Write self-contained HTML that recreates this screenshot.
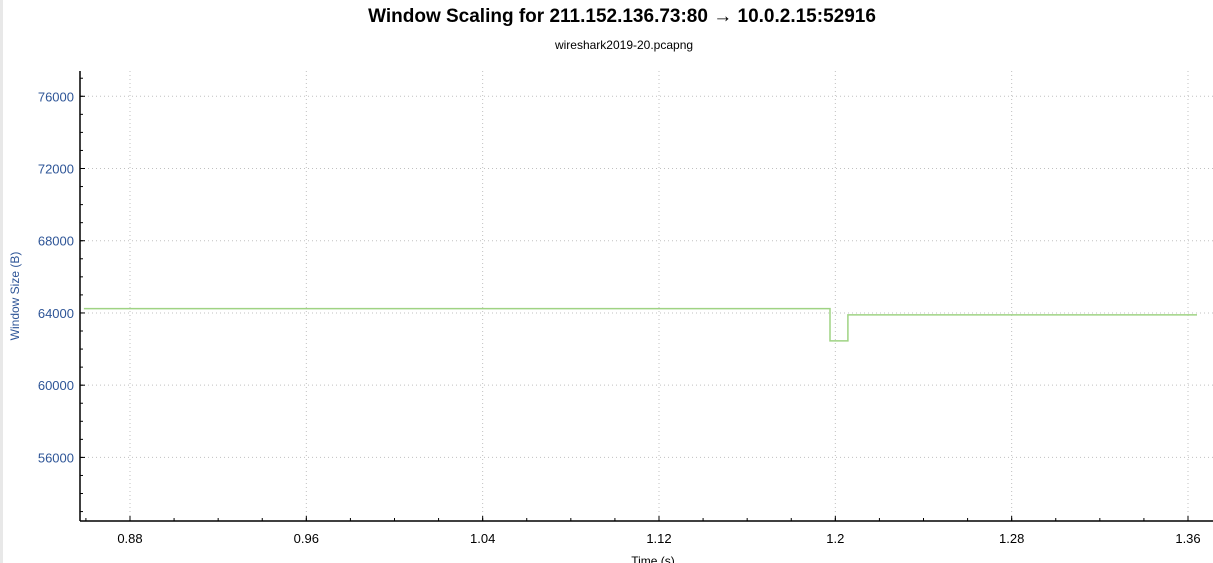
<!DOCTYPE html>
<html><head><meta charset="utf-8"><style>
body{margin:0;background:#fff;font-family:"Liberation Sans",Arial,sans-serif;}
svg{display:block}
</style></head><body>
<svg width="1213" height="563">
<rect x="0" y="0" width="3" height="563" fill="#e8e8e8"/>
<text x="622" y="22" text-anchor="middle" font-size="19" font-weight="bold" fill="#000">Window Scaling for 211.152.136.73:80 → 10.0.2.15:52916</text>
<text x="624" y="49" text-anchor="middle" font-size="12" fill="#000">wireshark2019-20.pcapng</text>
<g id="grid"></g><g id="axes"></g><g id="series"></g>
<text transform="translate(19,296) rotate(-90)" text-anchor="middle" font-size="12" fill="#2e5597">Window Size (B)</text>
<text x="653" y="565" text-anchor="middle" font-size="12" fill="#000">Time (s)</text>
</svg>
<script>
const xTicks=[0.88,0.96,1.04,1.12,1.2,1.28,1.36];
const xTickLabels=["0.88","0.96","1.04","1.12","1.2","1.28","1.36"];
const yTicks=[56000,60000,64000,68000,72000,76000];
const yTickLabels=["56000","60000","64000","68000","72000","76000"];
const seriesTimes=[0.8591,1.1976,1.1976,1.2057,1.2057,1.3641];
const seriesValues=[64240,64240,62450,62450,63890,63890];
const L=80,R=1213,T=71,B=521;
const X0=0.85732,X1=1.37134,Y0=52478,Y1=77400;
function xs(t){return L+(t-X0)/(X1-X0)*(R-L);}
function ys(v){return B-(v-Y0)/(Y1-Y0)*(B-T);}
const NS="http://www.w3.org/2000/svg";
function mk(tag,attrs,parent){const e=document.createElementNS(NS,tag);for(const k in attrs)e.setAttribute(k,attrs[k]);parent.appendChild(e);return e;}
const grid=document.getElementById('grid'),axes=document.getElementById('axes'),ser=document.getElementById('series');
xTicks.forEach((t,i)=>{const x=xs(t);
 const g=mk('line',{x1:x,x2:x,y1:T,y2:B,stroke:'#c0c0c0','stroke-dasharray':'1,3'},grid);
 
 
 const tk=mk('line',{x1:x,x2:x,y1:B,y2:B-5,stroke:'#000'},axes);
 
 
 const tx=mk('text',{x:x,y:B+22,'text-anchor':'middle','font-size':13,fill:'#000'},axes);tx.textContent=xTickLabels[i];
 
 
});
for(let t=0.86;t<=1.37;t+=0.02){const x=xs(t);if(x<L||x>R)continue;
 const m=mk('line',{x1:x,x2:x,y1:B,y2:B-3,stroke:'#000'},axes);
 
 }
yTicks.forEach((v,i)=>{const y=ys(v);
 const g=mk('line',{x1:L,x2:R,y1:y,y2:y,stroke:'#c0c0c0','stroke-dasharray':'1,3'},grid);
 
 
 const tk=mk('line',{x1:L,x2:L+5,y1:y,y2:y,stroke:'#000'},axes);
 
 
 const tx=mk('text',{x:L-6,y:y+5,'text-anchor':'end','font-size':13,fill:'#2e5597'},axes);tx.textContent=yTickLabels[i];
 
 
});
for(let v=53000;v<=77000;v+=1000){const y=ys(v);
 const m=mk('line',{x1:L,x2:L+3,y1:y,y2:y,stroke:'#000'},axes);
 
 }
const ya=mk('line',{x1:L,x2:L,y1:T,y2:B,stroke:'#000','stroke-width':1.5},axes);


const xa=mk('line',{x1:L,x2:R,y1:B,y2:B,stroke:'#000','stroke-width':1.5},axes);


const pts=seriesTimes.map((t,i)=>xs(t).toFixed(1)+','+ys(seriesValues[i]).toFixed(1)).join(' ');
const pl=mk('polyline',{points:pts,fill:'none',stroke:'#9fd383','stroke-width':1.5},ser);


</script>
</body></html>
